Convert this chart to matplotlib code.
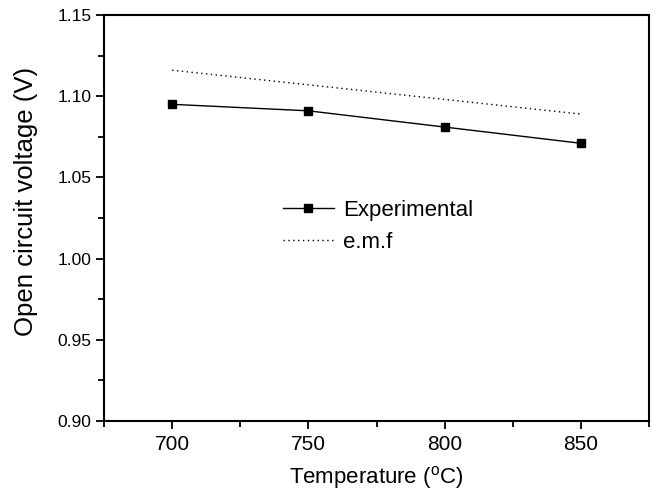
import matplotlib
matplotlib.use("Agg")
import matplotlib.pyplot as plt
from matplotlib.ticker import MultipleLocator, FormatStrFormatter

temperature = [700, 750, 800, 850]
experimental = [1.095, 1.091, 1.081, 1.071]
emf = [1.116, 1.107, 1.098, 1.089]

plt.rcParams['font.family'] = ['Liberation Sans', 'DejaVu Sans']
plt.rcParams['mathtext.fontset'] = 'custom'
plt.rcParams['mathtext.rm'] = 'Liberation Sans'

fig = plt.figure(figsize=(6.56, 4.92), dpi=100)
ax = fig.add_axes([104/656, 1-421/492, 545/656, 406/492])

ax.plot(temperature, experimental, color='black', lw=1.0, marker='s', ms=6, label='Experimental')
ax.plot(temperature, emf, color='black', lw=1.0, ls=(0, (1, 2.5)), label='e.m.f')

ax.set_xlim(675, 875)
ax.set_ylim(0.90, 1.15)
ax.xaxis.set_major_locator(MultipleLocator(50))
ax.xaxis.set_minor_locator(MultipleLocator(25))
ax.yaxis.set_major_locator(MultipleLocator(0.05))
ax.yaxis.set_minor_locator(MultipleLocator(0.025))
ax.yaxis.set_major_formatter(FormatStrFormatter('%.2f'))
ax.tick_params(which='both', direction='out', top=False, right=False)
ax.tick_params(axis='x', labelsize=15, pad=4)
ax.tick_params(axis='y', labelsize=12.5, pad=3)
ax.tick_params(which='major', length=6, width=1.3)
ax.tick_params(which='minor', length=4, width=1.3)
for s in ax.spines.values():
    s.set_linewidth(1.5)

ax.set_xlabel(r'Temperature ($^{\rm o}$C)', fontsize=16, labelpad=7)
ax.set_ylabel('Open circuit voltage (V)', fontsize=18.5)
ax.yaxis.set_label_coords(-0.121, 0.542)

ax.legend(loc='upper left', bbox_to_anchor=(0.328, 0.545), frameon=False, fontsize=16,
          handlelength=2.3, handletextpad=0.4, labelspacing=0.5, borderpad=0, borderaxespad=0)

fig.savefig('out.png', dpi=100)
